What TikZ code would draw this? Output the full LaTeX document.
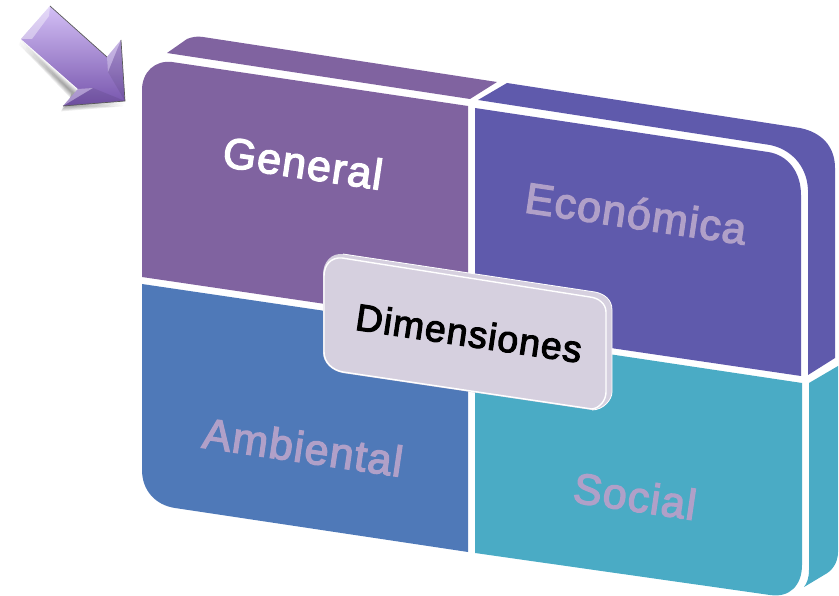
\documentclass[tikz,border=0pt]{standalone}
\usepackage{fontspec}
\newfontfamily\labelfont[FakeBold=3,LetterSpace=3]{Liberation Sans}
\usetikzlibrary{calc,positioning}
\definecolor{generalcol}{HTML}{8063A0}
\definecolor{economicacol}{HTML}{5F5AAC}
\definecolor{ambientalcol}{HTML}{4F79B8}
\definecolor{socialcol}{HTML}{4AABC5}
\definecolor{palecol}{HTML}{B0A0C8}
\definecolor{centercol}{HTML}{D6D0DF}
\definecolor{arrowlight}{HTML}{D4C0F6}
\definecolor{arrowmid}{HTML}{BBA2E2}
\definecolor{arrowdark}{HTML}{7654AC}
\tikzstyle{panel label}=[font=\labelfont\fontsize{43}{44}\selectfont,rotate=-8.4,inner sep=0]
\tikzstyle{pale label}=[panel label,text=palecol]
\begin{document}
\begin{tikzpicture}[x=1pt,y=-1pt]
		\useasboundingbox (0,0) rectangle (839,596);

		% side faces
		\fill[generalcol] (167,53) -- (187,39) .. controls (192,37) and (197,36) .. (203,37) -- (497,82) -- (470,99) -- cycle;
		\fill[economicacol] (478,100) -- (507,83) -- (800,128) .. controls (820,132) and (835,145) .. (835,168) -- (835,358) -- (808,375) -- (808,190) .. controls (807,165) and (790,149) .. (770,145) -- cycle;
		\fill[socialcol] (809,383) -- (838,366) -- (838,552) .. controls (838,563) and (832,571) .. (824,575) -- (804,587) .. controls (807,583) and (809,578) .. (809,570) -- cycle;

		% front faces
		\fill[generalcol] (142,277) -- (142,90) .. controls (142,72) and (155,60) .. (172,62) -- (468,106) -- (468,325) -- cycle;
		\fill[economicacol] (475,108) -- (768,152) .. controls (788,155) and (801,172) .. (801,195) -- (801,376) -- (475,328) -- cycle;
		\fill[ambientalcol] (142,284) -- (468,332) -- (468,552) -- (175,508) .. controls (155,505) and (142,490) .. (142,470) -- cycle;
		\fill[socialcol] (475,334) -- (802,383) -- (802,565) .. controls (802,585) and (790,598) .. (770,595) -- (475,553) -- cycle;

		% centre box
		\fill[centercol] (323,275) .. controls (323,262) and (331,253) .. (343,254) -- (595,292) .. controls (605,294) and (612,300) .. (612,310) -- (612,392) .. controls (612,400) and (603,410) .. (592,410) -- (343,373) .. controls (332,371) and (323,363) .. (323,352) -- cycle;
		\draw[white,line width=1.4] (606,312) -- (606,392) .. controls (606,400) and (600,408) .. (592,409) -- (343,372) .. controls (332,370) and (324,362) .. (324,352) -- (324,276) .. controls (324,265) and (331,257) .. (342,258) -- (590,297) .. controls (599,298) and (606,304) .. (606,312);
		\draw[white,line width=.8] (343,254) -- (595,292) .. controls (605,294) and (612,300) .. (612,310) -- (612,392) .. controls (612,400) and (603,410) .. (592,410);

		% arrow
		\foreach \i in {1,...,6}
			\fill[black,opacity=.07,shift={(-\i*0.35,\i*0.9)}] (21,39) -- (78,89) -- (63,106) -- (125,101) -- (70,100) -- (72,92) -- cycle;
		\shade[shading angle=135,top color=arrowlight,middle color=arrowmid,bottom color=arrowdark] (50,6) -- (107,57) -- (121,40) -- (125,101) -- (63,106) -- (78,89) -- (21,39) -- cycle;
		\fill[white,opacity=.4] (21,39) -- (50,6) -- (49,16) -- (32,39) -- cycle;
		\fill[white,opacity=.3] (107,57) -- (121,40) -- (108,72) -- cycle;
		\fill[white,opacity=.35] (78,89) -- (93,88) -- (63,106) -- cycle;
		\fill[black,opacity=.08] (121,40) -- (125,101) -- (108,72) -- cycle;
		\fill[black,opacity=.08] (125,101) -- (63,106) -- (93,88) -- cycle;
		\draw[black!65,line width=.7] (50,6) -- (107,57) (121,40) -- (125,101) -- (63,106);

		% labels
		\node(general)[panel label,text=white] at (303,163) {General};
		\node(economica)[pale label] at (636,213) {Económica};
		\node(ambiental)[pale label] at (303,447) {Ambiental};
		\node(social)[pale label] at (635,496) {Social};
		\node(dimensiones)[panel label,font=\labelfont\fontsize{37.5}{38}\selectfont,text=black] at (469,333) {Dimensiones};

\end{tikzpicture}
\end{document}
